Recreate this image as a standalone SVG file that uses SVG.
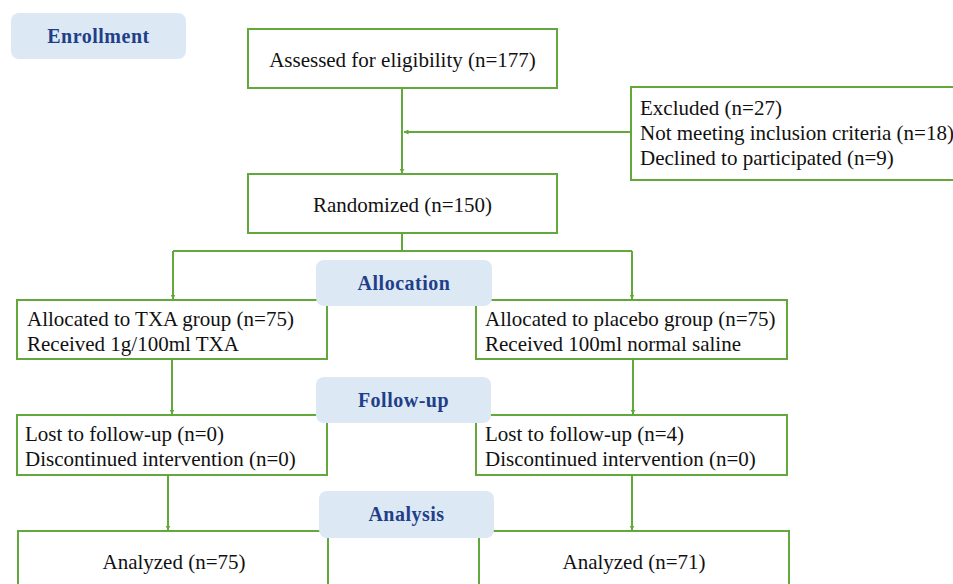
<svg xmlns="http://www.w3.org/2000/svg" width="953" height="584" viewBox="0 0 953 584">
<defs>
<style>
.box{fill:#fff;stroke:#63a83d;stroke-width:2}
.ln{fill:none;stroke:#63a83d;stroke-width:2}
.t{font-family:'Liberation Serif','DejaVu Serif',serif;font-size:21px;fill:#111}
.lab{fill:#dde8f5}
.lt{font-family:'Liberation Serif','DejaVu Serif',serif;font-size:20px;font-weight:bold;fill:#1f3f88;text-anchor:middle;letter-spacing:0.5px}
</style>
<marker id="ah" viewBox="0 0 10 10" refX="9" refY="5" markerWidth="5" markerHeight="5" orient="auto" markerUnits="userSpaceOnUse">
<path d="M0,0 L10,5 L0,10 z" fill="#63a83d"/>
</marker>
</defs>
<rect width="953" height="584" fill="#fff"/>
<g id="connectors">
<path class="ln" d="M402,88 V173" marker-end="url(#ah)"/>
<path class="ln" d="M631,132 H404" marker-end="url(#ah)"/>
<path class="ln" d="M402,233 V251"/>
<path class="ln" d="M173,251 H632"/>
<path class="ln" d="M173,251 V299" marker-end="url(#ah)"/>
<path class="ln" d="M632,251 V299" marker-end="url(#ah)"/>
<path class="ln" d="M172,359 V414" marker-end="url(#ah)"/>
<path class="ln" d="M633,359 V414" marker-end="url(#ah)"/>
<path class="ln" d="M168,475 V530" marker-end="url(#ah)"/>
<path class="ln" d="M632,475 V530" marker-end="url(#ah)"/>
</g>
<g id="assessed">
<rect class="box" x="248" y="29" width="309" height="59"/>
<text class="t" x="402.5" y="67" text-anchor="middle">Assessed for eligibility (n=177)</text>
</g>
<g id="excluded">
<rect class="box" x="631" y="87" width="330" height="93"/>
<text class="t" x="640" y="115">Excluded (n=27)</text>
<text class="t" x="640" y="140">Not meeting inclusion criteria (n=18)</text>
<text class="t" x="640" y="165">Declined to participated (n=9)</text>
</g>
<g id="randomized">
<rect class="box" x="248" y="174" width="309" height="59"/>
<text class="t" x="402.5" y="212" text-anchor="middle">Randomized (n=150)</text>
</g>
<g id="alloc-txa">
<rect class="box" x="17" y="300" width="310" height="59"/>
<text class="t" x="27" y="326">Allocated to TXA group (n=75)</text>
<text class="t" x="27" y="351">Received 1g/100ml TXA</text>
</g>
<g id="alloc-placebo">
<rect class="box" x="476" y="300" width="311" height="59"/>
<text class="t" x="485" y="326">Allocated to placebo group (n=75)</text>
<text class="t" x="485" y="351">Received 100ml normal saline</text>
</g>
<g id="follow-txa">
<rect class="box" x="17" y="415" width="310" height="60"/>
<text class="t" x="25" y="441">Lost to follow-up (n=0)</text>
<text class="t" x="25" y="466">Discontinued intervention (n=0)</text>
</g>
<g id="follow-placebo">
<rect class="box" x="476" y="415" width="311" height="60"/>
<text class="t" x="485" y="441">Lost to follow-up (n=4)</text>
<text class="t" x="485" y="466">Discontinued intervention (n=0)</text>
</g>
<g id="analyzed-txa">
<rect class="box" x="18" y="531" width="310" height="70"/>
<text class="t" x="174" y="569" text-anchor="middle">Analyzed (n=75)</text>
</g>
<g id="analyzed-placebo">
<rect class="box" x="479" y="531" width="310" height="70"/>
<text class="t" x="634" y="569" text-anchor="middle">Analyzed (n=71)</text>
</g>
<g id="label-enrollment">
<rect class="lab" x="11" y="13" width="175" height="46" rx="8"/>
<text class="lt" x="98.5" y="43">Enrollment</text>
</g>
<g id="label-allocation">
<rect class="lab" x="316" y="260" width="176" height="46" rx="8"/>
<text class="lt" x="404" y="290">Allocation</text>
</g>
<g id="label-followup">
<rect class="lab" x="316" y="377" width="175" height="46" rx="8"/>
<text class="lt" x="403.5" y="407">Follow-up</text>
</g>
<g id="label-analysis">
<rect class="lab" x="319" y="491" width="175" height="47" rx="8"/>
<text class="lt" x="406.5" y="521">Analysis</text>
</g>
</svg>
